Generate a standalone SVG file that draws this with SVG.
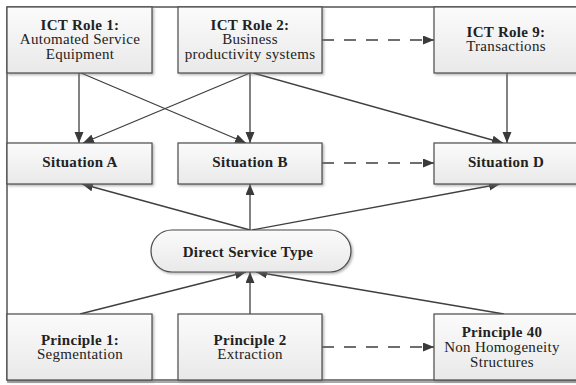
<svg xmlns="http://www.w3.org/2000/svg" width="576" height="385" viewBox="0 0 576 385">
  <defs>
    <linearGradient id="boxFill" x1="0" y1="0" x2="0" y2="1">
      <stop offset="0" stop-color="#fbfbfb"/>
      <stop offset="1" stop-color="#e9e9e9"/>
    </linearGradient>
    <filter id="shadow" x="-5%" y="-5%" width="115%" height="125%">
      <feDropShadow dx="1.5" dy="1.5" stdDeviation="0.8" flood-color="#777" flood-opacity="0.55"/>
    </filter>
    <marker id="arrow" markerUnits="userSpaceOnUse" markerWidth="12" markerHeight="10" refX="11" refY="4.5" orient="auto">
      <path d="M0,0 L11,4.5 L0,9 z" fill="#3a3a3a"/>
    </marker>
    <style>
      .box { fill: url(#boxFill); stroke: #4a4a4a; stroke-width: 1.2; filter: url(#shadow); }
      .frame { fill: #ffffff; stroke: #3a3a3a; stroke-width: 1.3; }
      .t { font-family: "Liberation Serif", "Times New Roman", serif; font-size: 15px; letter-spacing: 0.3px; fill: #222; text-anchor: middle; }
      .b { font-weight: bold; }
      .link { fill: none; stroke: #3f3f3f; stroke-width: 1.3; marker-end: url(#arrow); }
      .dash { stroke-dasharray: 12 10; }
    </style>
  </defs>

  <!-- outer frame -->
  <rect class="frame" x="7" y="7" width="580" height="373"/>
  <line x1="7" y1="382" x2="576" y2="382" stroke="#555" stroke-width="1.2"/>

  <!-- connectors -->
  <g id="connectors">
    <line class="link" x1="79" y1="73" x2="79" y2="143"/>
    <line class="link" x1="81" y1="73" x2="246" y2="143"/>
    <line class="link" x1="250" y1="73" x2="83" y2="143"/>
    <line class="link" x1="250" y1="73" x2="250" y2="143"/>
    <line class="link" x1="253" y1="73" x2="503" y2="143"/>
    <line class="link" x1="507" y1="73" x2="507" y2="143"/>
    <line class="link dash" x1="322" y1="40" x2="434" y2="40"/>
    <line class="link dash" x1="322" y1="163" x2="434" y2="163"/>
    <line class="link" x1="250" y1="230" x2="82" y2="184"/>
    <line class="link" x1="250" y1="230" x2="250" y2="184"/>
    <line class="link" x1="252" y1="230" x2="500" y2="184"/>
    <line class="link" x1="80" y1="314" x2="246" y2="272"/>
    <line class="link" x1="250" y1="314" x2="250" y2="272"/>
    <line class="link" x1="504" y1="314" x2="256" y2="272"/>
    <line class="link dash" x1="322" y1="347" x2="434" y2="347"/>
  </g>

  <!-- top row -->
  <g id="ict-role-1">
    <rect class="box" x="7" y="7" width="145" height="66"/>
    <text class="t b" x="80" y="29.5">ICT Role 1:</text>
    <text class="t" x="80" y="44">Automated Service</text>
    <text class="t" x="80" y="58.5">Equipment</text>
  </g>
  <g id="ict-role-2">
    <rect class="box" x="178" y="7" width="144" height="66"/>
    <text class="t b" x="250" y="29.5">ICT Role 2:</text>
    <text class="t" x="250" y="44">Business</text>
    <text class="t" x="250" y="58.5">productivity systems</text>
  </g>
  <g id="ict-role-9">
    <rect class="box" x="434" y="7" width="150" height="66"/>
    <text class="t b" x="506" y="36.5">ICT Role 9:</text>
    <text class="t" x="506" y="51">Transactions</text>
  </g>

  <!-- situations -->
  <g id="situation-a">
    <rect class="box" x="7" y="143" width="145" height="41"/>
    <text class="t b" x="80" y="167">Situation A</text>
  </g>
  <g id="situation-b">
    <rect class="box" x="178" y="143" width="144" height="41"/>
    <text class="t b" x="250" y="167">Situation B</text>
  </g>
  <g id="situation-d">
    <rect class="box" x="434" y="143" width="150" height="41"/>
    <text class="t b" x="506" y="167">Situation D</text>
  </g>

  <!-- service type -->
  <g id="direct-service-type">
    <rect class="box" x="151" y="230" width="200" height="42" rx="21" ry="21"/>
    <text class="t b" x="248" y="256.5">Direct Service Type</text>
  </g>

  <!-- principles -->
  <g id="principle-1">
    <rect class="box" x="7" y="314" width="145" height="66"/>
    <text class="t b" x="80" y="344.5">Principle 1:</text>
    <text class="t" x="80" y="359">Segmentation</text>
  </g>
  <g id="principle-2">
    <rect class="box" x="178" y="314" width="144" height="66"/>
    <text class="t b" x="250" y="344.5">Principle 2</text>
    <text class="t" x="250" y="359">Extraction</text>
  </g>
  <g id="principle-40">
    <rect class="box" x="434" y="314" width="150" height="66"/>
    <text class="t b" x="502" y="337">Principle 40</text>
    <text class="t" x="502" y="352">Non Homogeneity</text>
    <text class="t" x="502" y="367">Structures</text>
  </g>
</svg>
